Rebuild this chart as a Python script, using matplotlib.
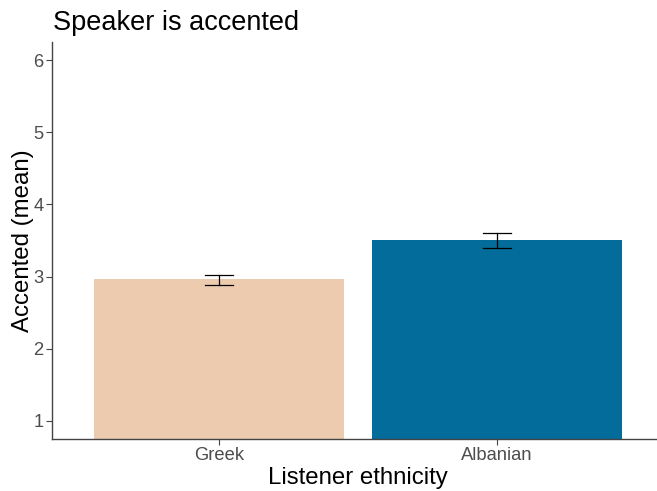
import matplotlib
matplotlib.use("Agg")
import matplotlib.pyplot as plt
import numpy as np

plt.rcParams['font.family'] = ['Liberation Sans', 'DejaVu Sans']

categories = ["Greek", "Albanian"]
means = [2.968, 3.50]
err_low = [2.885, 3.40]
err_high = [3.02, 3.61]
colors = ["#ECCBAE", "#046C9A"]
yticks = [1, 2, 3, 4, 5, 6]

W, H = 657, 491
fig = plt.figure(figsize=(W/100, H/100), dpi=100)
ax = fig.add_axes([52/W, 1-439/H, 611.6/W, (439-42)/H])

x = np.arange(1, len(categories)+1)
ax.bar(x, means, width=0.9, color=colors, bottom=0)
for xi, lo, hi in zip(x, err_low, err_high):
    ax.plot([xi, xi], [lo, hi], color='black', lw=0.9)
    ax.plot([xi-0.05, xi+0.05], [lo, lo], color='black', lw=0.9)
    ax.plot([xi-0.05, xi+0.05], [hi, hi], color='black', lw=0.9)

ax.set_xlim(0.4, 2.6)
ax.set_ylim(0.75, 6.25)
ax.set_xticks(x)
ax.set_xticklabels(categories)
ax.set_yticks(yticks)
ax.set_yticklabels([str(t) for t in yticks])

for s in ['top', 'right']:
    ax.spines[s].set_visible(False)
for s in ['left', 'bottom']:
    ax.spines[s].set_color('#444444')
    ax.spines[s].set_linewidth(1.0)
ax.tick_params(axis='both', colors='#444444', length=4, width=0.8, labelsize=13.2,
               labelcolor='#4D4D4D', pad=2)

fig.text(53/W, 1-30/H, "Speaker is accented", fontsize=19.5, ha='left', va='baseline', color='black')
fig.text(358/W, 1-484/H, "Listener ethnicity", fontsize=17.3, ha='center', va='baseline', color='black')
fig.text(23/W, 1-240.5/H, "Accented (mean)", fontsize=17.3, ha='center', va='center', rotation=90, color='black')

fig.savefig("out.png", dpi=100)
